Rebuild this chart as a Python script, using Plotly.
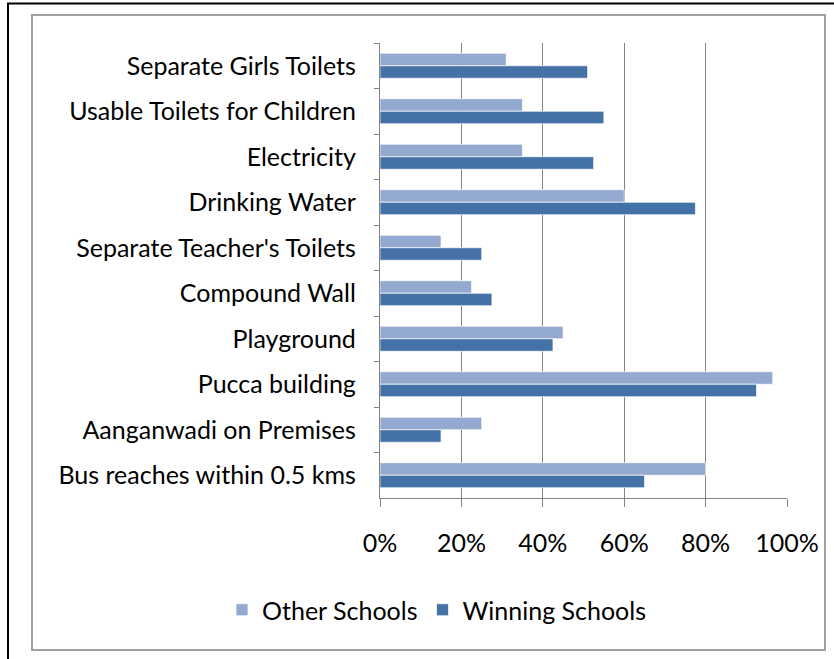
import plotly.graph_objects as go

categories = [
    "Separate Girls Toilets",
    "Usable Toilets for Children",
    "Electricity",
    "Drinking Water",
    "Separate Teacher's Toilets",
    "Compound Wall",
    "Playground",
    "Pucca building",
    "Aanganwadi on Premises",
    "Bus reaches within 0.5 kms",
]
other_schools = [0.31, 0.35, 0.35, 0.60, 0.15, 0.225, 0.45, 0.965, 0.25, 0.80]
winning_schools = [0.51, 0.55, 0.525, 0.775, 0.25, 0.275, 0.425, 0.925, 0.15, 0.65]
x_ticks = [0, 0.2, 0.4, 0.6, 0.8, 1.0]
x_tick_labels = ["0%", "20%", "40%", "60%", "80%", "100%"]

FONT = "Lato, Calibri, sans-serif"
GRID = "#838383"

fig = go.Figure()
fig.add_trace(go.Bar(
    name="Other Schools", y=categories, x=other_schools, orientation="h",
    marker=dict(color="#94A9CF", line=dict(color="rgba(255,255,255,0.7)", width=1)),
))
fig.add_trace(go.Bar(
    name="Winning Schools", y=categories, x=winning_schools, orientation="h",
    marker=dict(color="#4472A6", line=dict(color="rgba(255,255,255,0.7)", width=1)),
))

W, H = 834, 659
L, R, T, B = 380, 47, 43, 161
pw, ph = W - L - R, H - T - B


def px(x):
    return (x - L) / pw


def py(y):
    return (H - B - y) / ph


fig.update_layout(
    width=W, height=H,
    margin=dict(l=L, r=R, t=T, b=B, pad=0),
    paper_bgcolor="white", plot_bgcolor="white",
    barmode="group", bargap=0.45, bargroupgap=0,
    font=dict(family=FONT, size=25, color="black"),
    showlegend=True,
    legend=dict(
        orientation="h", x=px(222), xanchor="left", y=py(610), yanchor="middle",
        font=dict(family=FONT, size=25, color="black"),
        traceorder="normal", bgcolor="rgba(0,0,0,0)",
    ),
    xaxis=dict(
        range=[0, 1], tickvals=x_ticks, ticktext=x_tick_labels,
        showgrid=True, gridcolor=GRID, gridwidth=1.3,
        showline=True, linecolor=GRID, linewidth=1.3,
        ticks="outside", ticklen=8, tickcolor=GRID, tickwidth=1.3,
        ticklabelstandoff=15, zeroline=False,
    ),
    yaxis=dict(
        type="category", categoryorder="array", categoryarray=categories,
        autorange="reversed",
        showgrid=False, showline=True, linecolor=GRID, linewidth=1.3,
        ticks="outside", ticklen=5, tickcolor=GRID, tickwidth=1.3,
        tickson="boundaries",
        ticklabelstandoff=18,
    ),
    shapes=[
        dict(type="rect", xref="paper", yref="paper",
             x0=px(32), x1=px(825), y0=py(650), y1=py(15),
             line=dict(color="#A0A0A0", width=2), layer="below"),
        dict(type="rect", xref="paper", yref="paper",
             x0=px(8), x1=px(845), y0=py(670), y1=py(3.5),
             line=dict(color="black", width=2), layer="below"),
    ],
)

fig.write_html("out.html")
